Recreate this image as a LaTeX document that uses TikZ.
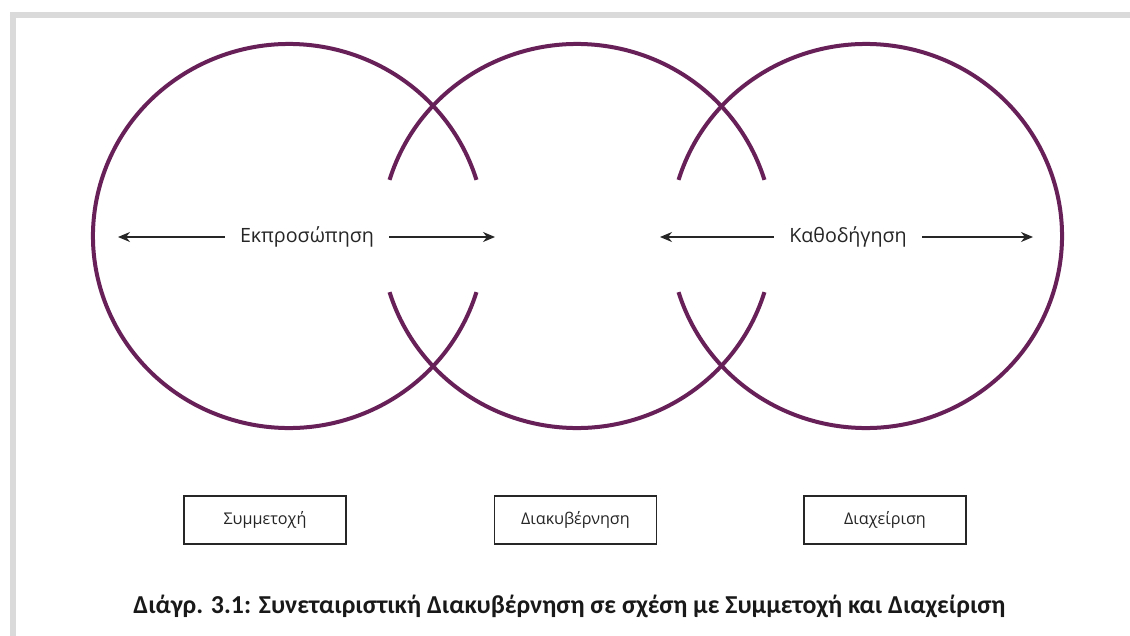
\documentclass[tikz,border=0pt]{standalone}
\usepackage{fontspec}
\setmainfont{Open Sans}
\newfontfamily\captionfont{Carlito}
\usepackage{tikz}
\usetikzlibrary{arrows.meta}
\definecolor{ringcol}{RGB}{104,32,88}
\definecolor{framecol}{RGB}{218,218,218}
\tikzstyle{ring} = [draw=ringcol, line width=0.08cm]
\tikzstyle{label} = [font=\fontsize{11.2}{13}\selectfont, text=black!85, inner sep=0pt]
\tikzstyle{box} = [rectangle, draw=black!85, line width=0.6pt, minimum width=3.24cm, minimum height=0.96cm, font=\fontsize{9.2}{11}\selectfont, text=black!85, text centered]
\tikzstyle{arrow} = [black!85, line width=0.7pt, -{Stealth[length=0.24cm, width=0.2cm]}]

\begin{document}
\begin{tikzpicture}[x=0.02cm, y=-0.02cm]
\useasboundingbox (0,0) rectangle (1130,636);
\fill[white] (0,0) rectangle (1130,636);

% frame
\draw[framecol, line width=0.12cm] (10,14.5) -- (1130,14.5);
\draw[framecol, line width=0.12cm] (13,12) -- (13,636);

% rings
\draw[ring] (289,236) ++(17:196 and 192) arc[start angle=17, end angle=343, x radius=196, y radius=192];
\draw[ring] (577,236) ++(17:196 and 192) arc[start angle=17, end angle=163, x radius=196, y radius=192];
\draw[ring] (577,236) ++(197:196 and 192) arc[start angle=197, end angle=343, x radius=196, y radius=192];
\draw[ring] (866,236) ++(197:196 and 192) arc[start angle=197, end angle=523, x radius=196, y radius=192];

% labels
\node (rep) [label] at (307,237) {Εκπροσώπηση};
\node (guide) [label] at (848,237) {Καθοδήγηση};
\coordinate (repL) at (118,237);
\coordinate (repR) at (495,237);
\coordinate (guideL) at (660,237);
\coordinate (guideR) at (1033,237);

\draw [arrow] (rep.west) ++(-0.3cm,0) -- (repL);
\draw [arrow] (rep.east) ++(0.3cm,0) -- (repR);
\draw [arrow] (guide.west) ++(-0.3cm,0) -- (guideL);
\draw [arrow] (guide.east) ++(0.3cm,0) -- (guideR);

% boxes
\node (part) [box] at (265,520) {Συμμετοχή};
\node (gov) [box] at (575.5,520) {Διακυβέρνηση};
\node (mgmt) [box] at (885,520) {Διαχείριση};

\node (cap) [anchor=west, inner sep=0pt, text=black!90, font=\captionfont\bfseries\fontsize{14.7}{17}\selectfont] at (133,606) {Διάγρ. 3.1: Συνεταιριστική Διακυβέρνηση σε σχέση με Συμμετοχή και Διαχείριση};
\end{tikzpicture}
\end{document}
